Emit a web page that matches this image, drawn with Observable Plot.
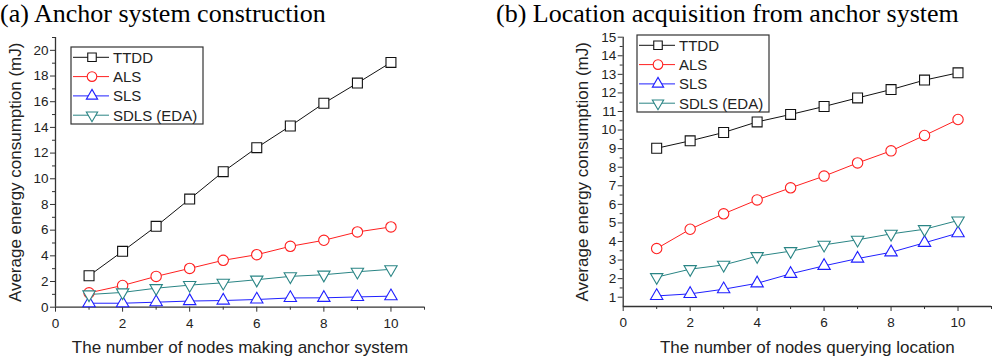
<!DOCTYPE html>
<html><head><meta charset="utf-8">
<script src="https://cdn.jsdelivr.net/npm/d3@7"></script>
<script src="https://cdn.jsdelivr.net/npm/@observablehq/plot@0.6"></script>
<style>
body{margin:0;background:#fff;}
#wrap{position:relative;width:1000px;height:357px;overflow:hidden;font-family:Arial,"Liberation Sans",sans-serif;}
.title{position:absolute;top:0px;font-family:"Liberation Serif","Times New Roman",serif;font-size:26px;white-space:nowrap;line-height:1.1;color:#000;}
.panel{position:absolute;top:0;}
</style></head><body><div id="wrap"></div>
<script>
// ---- data ----
const nodes = [1, 2, 3, 4, 5, 6, 7, 8, 9, 10];
const seriesNames = ["TTDD", "ALS", "SLS", "SDLS (EDA)"];
const seriesColors = ["#111111", "#ff2020", "#2020ff", "#2a8585"];
const seriesSymbols = ["square", "circle", "triangle", "triangle"];
const seriesRotate = [0, 0, 0, 180];

// (a) Anchor system construction
const anchorTTDD = [2.45, 4.35, 6.3, 8.42, 10.55, 12.42, 14.11, 15.88, 17.45, 19.06];
const anchorALS  = [1.12, 1.69, 2.4, 3.02, 3.65, 4.09, 4.74, 5.21, 5.86, 6.25];
const anchorSLS  = [0.31, 0.31, 0.39, 0.48, 0.52, 0.6, 0.72, 0.73, 0.8, 0.86];
const anchorSDLS = [0.99, 1.15, 1.48, 1.72, 1.9, 2.14, 2.4, 2.53, 2.76, 2.95];

// (b) Location acquisition from anchor system
const locTTDD = [9.02, 9.42, 9.87, 10.44, 10.84, 11.27, 11.73, 12.18, 12.69, 13.08];
const locALS  = [3.62, 4.66, 5.49, 6.24, 6.89, 7.52, 8.23, 8.88, 9.71, 10.57];
const locSLS  = [1.07, 1.18, 1.43, 1.75, 2.26, 2.69, 3.08, 3.42, 3.93, 4.45];
const locSDLS = [2.08, 2.51, 2.74, 3.21, 3.48, 3.82, 4.09, 4.41, 4.66, 5.13];

// ticks
const xMajorTicks = [0, 2, 4, 6, 8, 10];
const xMinorTicks = [1, 3, 5, 7, 9, 11];
const yMajorTicksA = [0, 2, 4, 6, 8, 10, 12, 14, 16, 18, 20];
const yMinorTicksA = [1, 3, 5, 7, 9, 11, 13, 15, 17, 19, 21];
const yMajorTicksB = [1, 2, 3, 4, 5, 6, 7, 8, 9, 10, 11, 12, 13, 14, 15];
const yMinorTicksB = [1.5, 2.5, 3.5, 4.5, 5.5, 6.5, 7.5, 8.5, 9.5, 10.5, 11.5, 12.5, 13.5, 14.5];

const titleA = "(a) Anchor system construction";
const titleB = "(b) Location acquisition from anchor system";
const xLabelA = "The number of nodes making anchor system";
const xLabelB = "The number of nodes querying location";
const yLabel = "Average energy consumption (mJ)";

// ---- build ----
const wrap = document.getElementById("wrap");
const AX = "#333";

function rows(values) {
  return values.map((vals, s) => nodes.map((n, i) => ({x: n, y: vals[i], s})));
}

function seriesMarks(data) {
  const marks = [];
  data.forEach((d, s) => {
    marks.push(Plot.line(d, {x: "x", y: "y", stroke: seriesColors[s], strokeWidth: 1}));
  });
  data.forEach((d, s) => {
    marks.push(Plot.dot(d, {
      x: "x", y: "y", symbol: seriesSymbols[s], rotate: seriesRotate[s],
      r: seriesSymbols[s] === "square" ? 5.6 : seriesSymbols[s] === "circle" ? 5.2 : 4.6,
      stroke: seriesColors[s], fill: "white", strokeWidth: 1.1
    }));
  });
  return marks;
}

function chart({data, yDomain, yMajor, yMinor, xLabel, m}) {
  return Plot.plot({
    width: 500, height: 357,
    marginLeft: m[0], marginRight: m[1], marginTop: m[2], marginBottom: m[3],
    style: {fontFamily: "Arial, 'Liberation Sans', sans-serif", color: "#222", background: "transparent", overflow: "visible"},
    x: {domain: [0, 11]},
    y: {domain: yDomain},
    marks: [
      Plot.axisX({ticks: xMajorTicks, tickSize: 5, tickPadding: 6, fontSize: 13.5, label: null, stroke: AX}),
      Plot.axisX({ticks: xMinorTicks, tickSize: 3, tickFormat: () => "", label: null, stroke: AX}),
      Plot.axisY({ticks: yMajor, tickSize: 5, tickPadding: 2, fontSize: 13.5, label: null, stroke: AX}),
      Plot.axisY({ticks: yMinor, tickSize: 3, tickFormat: () => "", label: null, stroke: AX}),
      Plot.ruleX([0], {stroke: AX, strokeWidth: 1.3}),
      Plot.ruleY([yDomain[0]], {stroke: AX, strokeWidth: 1.3}),
      Plot.text([xLabel], {text: d => d, frameAnchor: "bottom", dy: 46, lineAnchor: "bottom", textAnchor: "middle", fontSize: 17, fill: "#222"}),
      Plot.text([yLabel], {text: d => d, frameAnchor: "left", dx: -47, rotate: -90, lineAnchor: "top", textAnchor: "middle", fontSize: 17, fill: "#222"}),
      ...seriesMarks(data)
    ]
  });
}

function legend(left, top) {
  const w = 132, h = 77, rowH = 19.3;
  const svg = d3.create("svg").attr("width", w + 2).attr("height", h + 2)
    .style("position", "absolute").style("left", (left - 1) + "px").style("top", (top - 1) + "px");
  svg.append("rect").attr("x", 1).attr("y", 1).attr("width", w).attr("height", h)
    .attr("fill", "white").attr("stroke", "#333").attr("stroke-width", 1.2);
  const symMap = {square: d3.symbolSquare, circle: d3.symbolCircle, triangle: d3.symbolTriangle};
  seriesNames.forEach((name, s) => {
    const cy = 1 + 10.3 + s * rowH;
    const g = svg.append("g");
    g.append("line").attr("x1", 3).attr("x2", 39).attr("y1", cy).attr("y2", cy)
      .attr("stroke", seriesColors[s]).attr("stroke-width", 1);
    const r = seriesSymbols[s] === "square" ? 4.8 : seriesSymbols[s] === "circle" ? 4.8 : 4.2;
    g.append("path").attr("d", d3.symbol(symMap[seriesSymbols[s]], Math.PI * r * r)())
      .attr("transform", `translate(22,${cy}) rotate(${seriesRotate[s]})`)
      .attr("fill", "white").attr("stroke", seriesColors[s]).attr("stroke-width", 1.1);
    g.append("text").attr("x", 43).attr("y", cy + 5.4).text(name)
      .attr("font-size", 15).attr("fill", "#222")
      .attr("font-family", "Arial, 'Liberation Sans', sans-serif");
  });
  return svg.node();
}

const A = chart({
  data: rows([anchorTTDD, anchorALS, anchorSLS, anchorSDLS]),
  yDomain: [0, 21], yMajor: yMajorTicksA, yMinor: yMinorTicksA, xLabel: xLabelA,
  m: [55, 76, 37, 50.3]
});
const B = chart({
  data: rows([locTTDD, locALS, locSLS, locSDLS]),
  yDomain: [0.5, 15], yMajor: yMajorTicksB, yMinor: yMinorTicksB, xLabel: xLabelB,
  m: [122.7, 9, 36.7, 51]
});
A.classList.add("panel"); A.style.left = "0px";
B.classList.add("panel"); B.style.left = "500px";
wrap.appendChild(A);
wrap.appendChild(B);
wrap.appendChild(legend(70.7, 47.3));
wrap.appendChild(legend(637, 34.7));

const tA = document.createElement("div"); tA.className = "title"; tA.style.left = "0px"; tA.textContent = titleA;
const tB = document.createElement("div"); tB.className = "title"; tB.style.left = "496px"; tB.textContent = titleB;
wrap.appendChild(tA); wrap.appendChild(tB);
</script>
</body></html>
